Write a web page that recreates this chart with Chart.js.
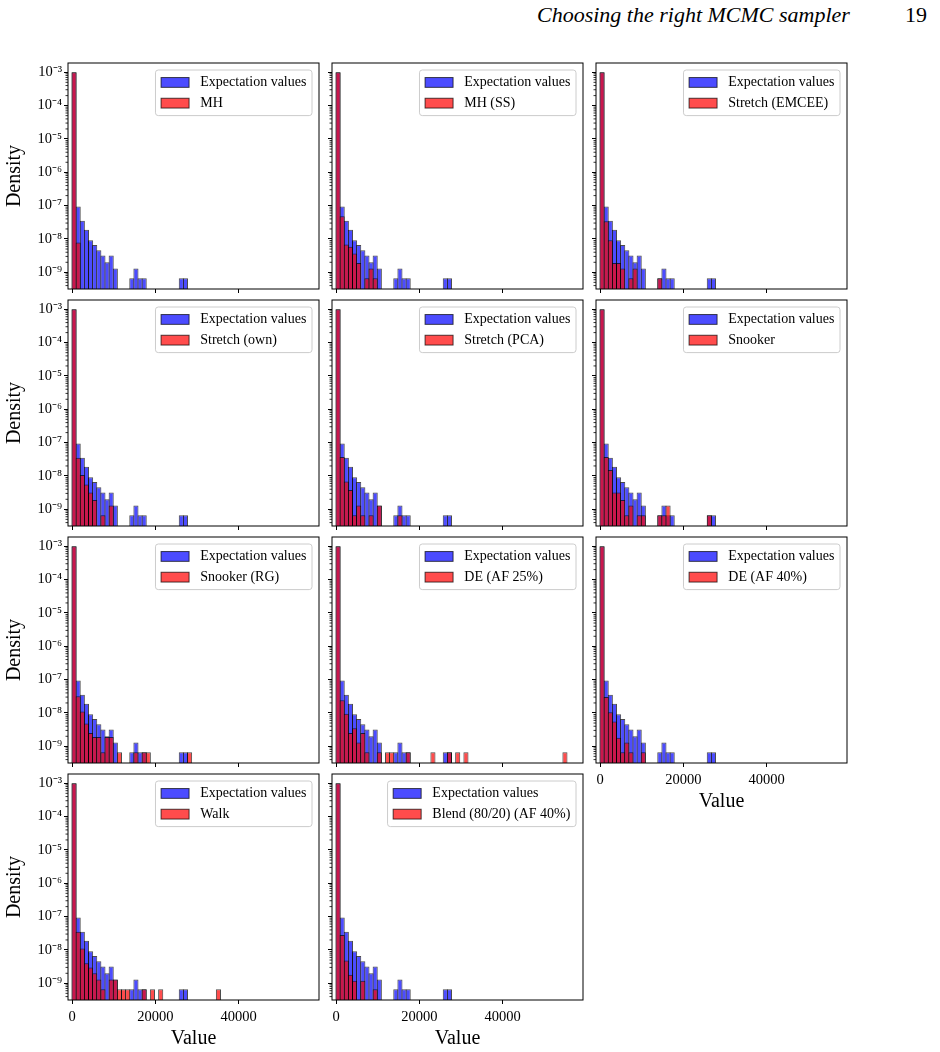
<!DOCTYPE html>
<html>
<head>
<meta charset="utf-8">
<script src="https://cdn.jsdelivr.net/npm/chart.js@4.4.1/dist/chart.umd.min.js"></script>
<style>
  html, body { margin: 0; padding: 0; background: #fff; }
  body { width: 940px; height: 1052px; position: relative; overflow: hidden; font-family: "Liberation Serif", serif; }
  .hdr { position: absolute; top: 4px; font-size: 22px; line-height: 22px; color: #000; white-space: nowrap; }
  canvas { position: absolute; }
</style>
</head>
<body>
<div class="hdr" style="left:537px; font-style:italic;">Choosing the right MCMC sampler</div>
<div class="hdr" style="left:905px;">19</div>
<script>
// histogram bins: bin i covers [i*binWidth, (i+1)*binWidth]
const binWidth = 990;
const xTicks = [0, 20000, 40000];
const yTicks = [1e-3, 1e-4, 1e-5, 1e-6, 1e-7, 1e-8, 1e-9];

const refLabel = 'Expectation values';
const samplerLabels = ['MH', 'MH (SS)', 'Stretch (EMCEE)', 'Stretch (own)', 'Stretch (PCA)', 'Snooker',
  'Snooker (RG)', 'DE (AF 25%)', 'DE (AF 40%)', 'Walk', 'Blend (80/20) (AF 40%)'];

// densities per bin (0 = empty bin)
const expectation = [1.0e-3, 9.5e-8, 3.5e-8, 1.9e-8, 9.1e-9, 6.6e-9, 4.6e-9, 3.2e-9, 2.0e-9, 3.2e-9, 1.3e-9,
  0, 0, 0, 6.6e-10, 1.3e-9, 6.6e-10, 6.6e-10, 0, 0, 0, 0, 0, 0, 0, 0, 6.6e-10, 6.6e-10];

const mh = [1.0e-3, 7.9e-9];
const mhSS = [1.0e-3, 4.8e-8, 6.8e-9, 5.8e-9, 3.7e-9, 1.9e-9, 0, 6.6e-10, 1.3e-9, 6.6e-10];
const stretchEmcee = [1.0e-3, 3.4e-8, 9.1e-9, 1.9e-9, 1.9e-9, 1.3e-9, 0, 6.6e-10, 1.3e-9, 0, 0, 0, 0, 0, 6.6e-10];
const stretchOwn = [1.0e-3, 3.5e-8, 1.07e-8, 5.6e-9, 3.2e-9, 1.9e-9, 0, 6.6e-10, 0, 1.3e-9];
const stretchPca = [1.0e-3, 3.7e-8, 6.8e-9, 3.8e-9, 6.6e-10, 1.3e-9, 6.6e-10, 0, 6.6e-10, 0, 1.3e-9,
  0, 0, 0, 0, 6.6e-10];
const snooker = [1.0e-3, 3.7e-8, 1.5e-8, 3.2e-9, 3.2e-9, 1.9e-9, 6.6e-10, 1.3e-9, 0, 6.6e-10, 6.6e-10,
  0, 0, 0, 6.6e-10, 6.6e-10, 1.3e-9, 0, 0, 0, 0, 0, 0, 0, 0, 0, 6.6e-10];
const snookerRG = [1.0e-3, 3.2e-8, 1.1e-8, 4.8e-9, 2.5e-9, 1.9e-9, 1.9e-9, 6.6e-10, 1.9e-9, 1.9e-9, 0,
  6.6e-10, 0, 0, 0, 6.6e-10, 0, 6.6e-10, 6.6e-10, 0, 0, 0, 0, 0, 0, 0, 0, 0, 6.6e-10];
const deAF25 = [1.0e-3, 2.4e-8, 9.5e-9, 2.5e-9, 3.5e-9, 1.3e-9, 2.5e-9, 6.6e-10, 0, 0, 6.6e-10,
  0, 6.6e-10, 6.6e-10, 0, 0, 0, 6.6e-10, 0, 0, 0, 0, 0, 6.6e-10, 0, 0, 0, 6.6e-10, 0, 6.6e-10,
  0, 6.6e-10, 0, 0, 0, 0, 0, 0, 0, 0, 0, 0, 0, 0, 0, 0, 0, 0, 0, 0, 0, 0, 0, 0, 0, 6.6e-10];
const deAF40 = [1.0e-3, 3.0e-8, 1.05e-8, 5.6e-9, 1.8e-9, 6.6e-10, 1.3e-9, 6.6e-10, 0, 0, 6.6e-10];
const walk = [1.0e-3, 3.5e-8, 1.1e-8, 4.0e-9, 3.0e-9, 2.0e-9, 1.3e-9, 6.6e-10, 0, 1.3e-9, 1.3e-9,
  6.6e-10, 6.6e-10, 6.6e-10, 0, 0, 0, 6.6e-10, 0, 6.6e-10, 0, 6.6e-10, 0, 0, 0, 0, 0, 0, 0, 0,
  0, 0, 0, 0, 0, 6.6e-10];
const blend = [1.0e-3, 2.8e-8, 4.8e-9, 1.8e-9, 1.2e-9, 0, 1.2e-9, 0, 0, 6.6e-10];

const samplerData = [mh, mhSS, stretchEmcee, stretchOwn, stretchPca, snooker, snookerRG, deAF25, deAF40, walk, blend];

// layout (pixels)
const colLeft = [68, 332, 596];
const rowTop = [63, 300, 537, 774];
const plotW = 251, plotH = 226;
const padL = 68, padT = 12, padR = 10, padB = 52;
const xMin = -960, xMax = 59280;
const yMin = 3.16e-10, yMax = 1.9e-3;

const serif = "'Liberation Serif', 'Times New Roman', serif";
const blueFill = 'rgba(0,0,255,0.7)';
const redFill = 'rgba(255,0,0,0.7)';
const edge = 'rgba(0,0,0,0.7)';

const sup = { '-': '\u207B', '0': '\u2070', '1': '\u00B9', '2': '\u00B2', '3': '\u00B3', '4': '\u2074',
  '5': '\u2075', '6': '\u2076', '7': '\u2077', '8': '\u2078', '9': '\u2079' };
function powLabel(v) {
  const e = String(Math.round(Math.log10(v)));
  return '10' + e.split('').map(c => sup[c]).join('');
}

function toPoints(arr) {
  return arr.map((v, i) => ({ x: (i + 0.5) * binWidth, y: v > 0 ? v : null }));
}

// box, spines, minor ticks
const frame = {
  id: 'frame',
  afterDatasetsDraw(chart) {
    const { ctx, chartArea: a, scales: { y } } = chart;
    ctx.save();
    ctx.strokeStyle = '#000';
    ctx.lineWidth = 0.8;
    for (let e = -10; e <= -3; e++) {
      for (let m = 2; m <= 9; m++) {
        const v = m * Math.pow(10, e);
        if (v < yMin || v > yMax) continue;
        const py = y.getPixelForValue(v);
        ctx.beginPath();
        ctx.moveTo(a.left - 2.5, py);
        ctx.lineTo(a.left, py);
        ctx.stroke();
      }
    }
    ctx.lineWidth = 1;
    ctx.strokeRect(a.left, a.top, a.right - a.left, a.bottom - a.top);
    ctx.restore();
  }
};

// matplotlib-style legend in the upper right corner
const insetLegend = {
  id: 'insetLegend',
  afterDraw(chart) {
    const { ctx, chartArea: a } = chart;
    const fs = 14, pad = 0.4 * fs, hl = 2 * fs, hh = 0.7 * fs, tp = 0.8 * fs, ls = 0.5 * fs, rowH = 13.7;
    const items = chart.data.datasets;
    ctx.save();
    ctx.font = fs + 'px ' + serif;
    const textW = Math.max(...items.map(d => ctx.measureText(d.label).width));
    const w = 2 * pad + hl + tp + textW;
    const h = 2 * pad + rowH * items.length + ls * (items.length - 1);
    const x = a.right - 0.5 * fs - w, y0 = a.top + 0.5 * fs;
    const r = 2.8;
    ctx.beginPath();
    ctx.moveTo(x + r, y0);
    ctx.arcTo(x + w, y0, x + w, y0 + h, r);
    ctx.arcTo(x + w, y0 + h, x, y0 + h, r);
    ctx.arcTo(x, y0 + h, x, y0, r);
    ctx.arcTo(x, y0, x + w, y0, r);
    ctx.closePath();
    ctx.fillStyle = 'rgba(255,255,255,0.8)';
    ctx.fill();
    ctx.strokeStyle = '#cccccc';
    ctx.lineWidth = 1;
    ctx.stroke();
    items.forEach((d, i) => {
      const cy = y0 + pad + rowH / 2 + i * (rowH + ls);
      ctx.fillStyle = d.backgroundColor;
      ctx.fillRect(x + pad, cy - hh / 2, hl, hh);
      ctx.strokeStyle = d.borderColor;
      ctx.strokeRect(x + pad, cy - hh / 2, hl, hh);
      ctx.fillStyle = '#000';
      ctx.textBaseline = 'middle';
      ctx.textAlign = 'left';
      ctx.fillText(d.label, x + pad + hl + tp, cy);
    });
    ctx.restore();
  }
};

const binPx = binWidth * plotW / (xMax - xMin);
const barPct = 1 + 1 / binPx;

function makePanel(idx) {
  const row = Math.floor(idx / 3), col = idx % 3;
  const showX = row === 3 || (row === 2 && col === 2);
  const showY = col === 0;
  const cv = document.createElement('canvas');
  cv.width = padL + plotW + padR;
  cv.height = padT + plotH + padB;
  cv.style.left = (colLeft[col] - padL) + 'px';
  cv.style.top = (rowTop[row] - padT) + 'px';
  document.body.appendChild(cv);

  new Chart(cv, {
    type: 'bar',
    data: {
      datasets: [
        { label: refLabel, data: toPoints(expectation), backgroundColor: blueFill, borderColor: edge,
          borderWidth: 1, borderSkipped: 'start', grouped: false, order: 1,
          categoryPercentage: 1, barPercentage: barPct },
        { label: samplerLabels[idx], data: toPoints(samplerData[idx]), backgroundColor: redFill, borderColor: edge,
          borderWidth: 1, borderSkipped: 'start', grouped: false, order: 0,
          categoryPercentage: 1, barPercentage: barPct }
      ]
    },
    options: {
      responsive: false,
      animation: false,
      events: [],
      layout: { padding: { top: padT, right: padR, left: 0, bottom: 0 } },
      plugins: { legend: { display: false }, tooltip: { enabled: false } },
      scales: {
        x: {
          type: 'linear', min: xMin, max: xMax, offset: false,
          afterBuildTicks: s => { s.ticks = xTicks.map(v => ({ value: v })); },
          afterFit: s => { s.height = padB; },
          grid: { display: true, offset: false, drawOnChartArea: false, drawTicks: true, tickLength: 4, color: '#000', lineWidth: 1 },
          border: { display: false },
          ticks: { display: showX, autoSkip: false, maxRotation: 0, padding: 4, color: '#000',
            font: { family: serif, size: 14.5 }, callback: v => String(v) },
          title: { display: showX, text: 'Value', color: '#000', font: { family: serif, size: 20 },
            padding: { top: 0, bottom: 1 } }
        },
        y: {
          type: 'logarithmic', min: yMin, max: yMax,
          afterBuildTicks: s => { s.ticks = yTicks.map(v => ({ value: v, major: true })); },
          afterFit: s => { s.width = padL; },
          grid: { display: true, drawOnChartArea: false, drawTicks: true, tickLength: 4, color: '#000', lineWidth: 1 },
          border: { display: false },
          ticks: { display: showY, autoSkip: false, padding: 2, color: '#000',
            font: { family: serif, size: 14.5 }, callback: v => powLabel(v) },
          title: { display: showY, text: 'Density', color: '#000', font: { family: serif, size: 20 },
            padding: { top: 3, bottom: 0 } }
        }
      }
    },
    plugins: [frame, insetLegend]
  });
}

for (let i = 0; i < samplerLabels.length; i++) makePanel(i);
</script>
</body>
</html>
